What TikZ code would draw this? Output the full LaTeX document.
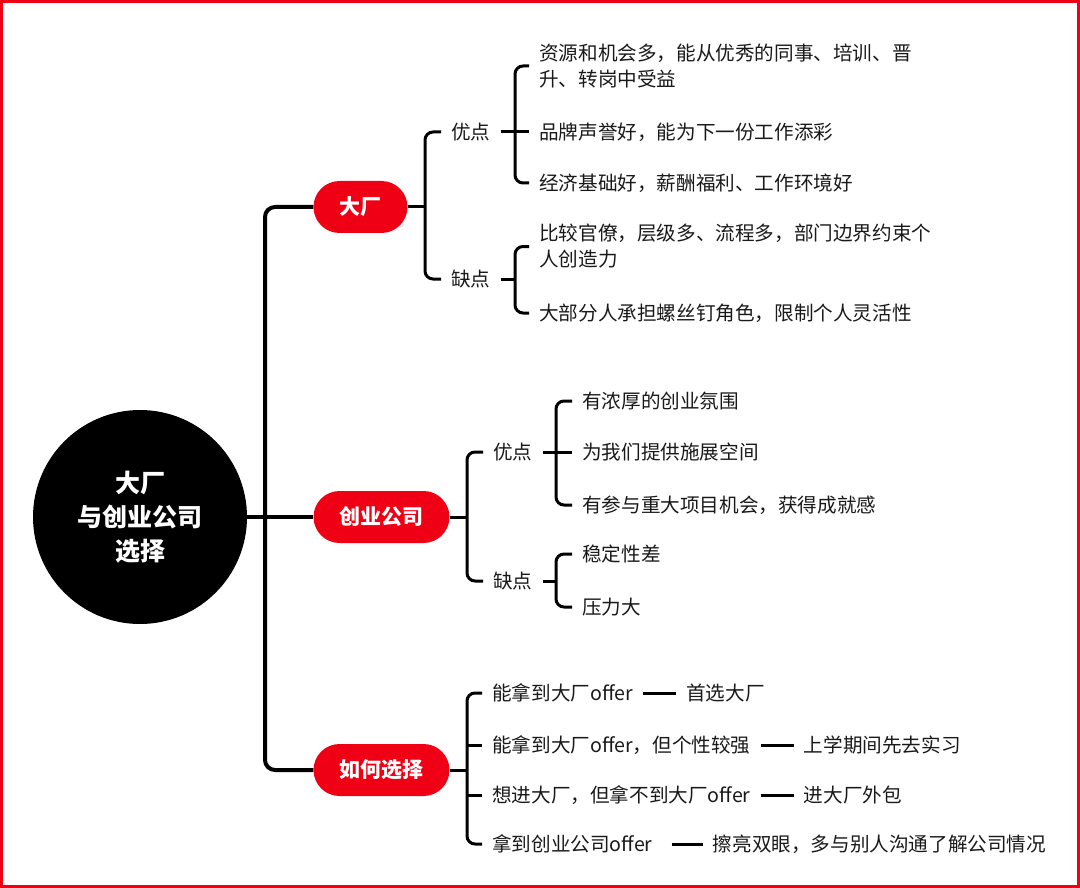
\documentclass[tikz,border=0pt]{standalone}
\usepackage{fontspec}
\setmainfont{Noto Sans CJK SC}
\usetikzlibrary{positioning}
\definecolor{mred}{RGB}{240,0,20}
\definecolor{ink}{RGB}{25,25,25}
\begin{document}
\begin{tikzpicture}[x=1pt,y=-1pt,
  leaf/.style={anchor=west, inner xsep=10pt, inner ysep=2pt, text=ink,
    font=\fontsize{19.6}{26}\selectfont, align=left},
  topic/.style={fill=mred, text=white, font=\bfseries\fontsize{21}{24}\selectfont,
    rounded corners=26pt, minimum height=52pt, inner xsep=26pt},
  br/.style={draw=black, line width=3pt, rounded corners=8pt},
  mainline/.style={draw=black, line width=4pt, rounded corners=10pt}]
\useasboundingbox (0,0) rectangle (1080,888);
\draw[mred, line width=3pt] (1.5,1.5) rectangle (1078.5,886.5);

% root
\node[circle, fill=black, minimum size=214pt, text=white,
  font=\bfseries\fontsize{25}{34}\selectfont, align=center] (root) at (140,517)
  {大厂\\与创业公司\\选择};

% topics
\node[topic] (b1) at (360.5,207) {大厂};
\node[topic] (b2) at (381.5,517) {创业公司};
\node[topic] (b3) at (381.5,770) {如何选择};

\coordinate (sp) at (265,517);
\draw[mainline] (b1.west) -| (sp) |- (b3.west);
\draw[mainline] (root.east) -- (b2.west);

% branch 1
\coordinate (j1) at (425,207);
\node[leaf] (p1) at (441,132) {优点};
\node[leaf] (c1) at (441,279) {缺点};
\draw[br] (b1.east) -- (j1);
\draw[br] (p1.west) -| (j1) |- (c1.west);

\coordinate (k1) at (515,132);
\node[leaf] (a1) at (529,66) {资源和机会多，能从优秀的同事、培训、晋\\升、转岗中受益};
\node[leaf] (a2) at (529,132) {品牌声誉好，能为下一份工作添彩};
\node[leaf] (a3) at (529,183) {经济基础好，薪酬福利、工作环境好};
\draw[br] (p1.east) -- (a2.west);
\draw[br] (a1.west) -| (k1) |- (a3.west);

\coordinate (k1b) at (515,279);
\node[leaf] (d1) at (529,246.5) {比较官僚，层级多、流程多，部门边界约束个\\人创造力};
\node[leaf] (d2) at (529,313) {大部分人承担螺丝钉角色，限制个人灵活性};
\draw[br] (c1.east) -- (k1b);
\draw[br] (d1.west) -| (k1b) |- (d2.west);

% branch 2
\coordinate (j2) at (467,517);
\node[leaf] (p2) at (483,452) {优点};
\node[leaf] (c2) at (483,581) {缺点};
\draw[br] (b2.east) -- (j2);
\draw[br] (p2.west) -| (j2) |- (c2.west);

\coordinate (k2) at (556,452);
\node[leaf] (e1) at (572,401) {有浓厚的创业氛围};
\node[leaf] (e2) at (572,452) {为我们提供施展空间};
\node[leaf] (e3) at (572,505) {有参与重大项目机会，获得成就感};
\draw[br] (p2.east) -- (e2.west);
\draw[br] (e1.west) -| (k2) |- (e3.west);

\coordinate (k2b) at (556,581);
\node[leaf] (f1) at (572,554) {稳定性差};
\node[leaf] (f2) at (572,607) {压力大};
\draw[br] (c2.east) -- (k2b);
\draw[br] (f1.west) -| (k2b) |- (f2.west);

% branch 3
\coordinate (j3) at (467,770);
\node[leaf] (r1) at (482,693) {能拿到大厂offer};
\node[leaf] (r2) at (482,745) {能拿到大厂offer，但个性较强};
\node[leaf] (r3) at (482,795) {想进大厂，但拿不到大厂offer};
\node[leaf] (r4) at (482,844) {拿到创业公司offer};
\draw[br] (b3.east) -- (j3);
\draw[br] (r1.west) -| (j3) |- (r4.west);
\draw[br] (r2.west -| j3) -- (r2.west);
\draw[br] (r3.west -| j3) -- (r3.west);

\node[leaf, right=33pt of r1] (s1) {首选大厂};
\node[leaf, right=33pt of r2] (s2) {上学期间先去实习};
\node[leaf, right=33pt of r3] (s3) {进大厂外包};
\node[leaf, right=40pt of r4] (s4) {擦亮双眼，多与别人沟通了解公司情况};
\draw[br] (r1.east) -- (s1.west);
\draw[br] (r2.east) -- (s2.west);
\draw[br] (r3.east) -- (s3.west);
\draw[br] ([xshift=9pt]r4.east) -- (s4.west);
\end{tikzpicture}
\end{document}
